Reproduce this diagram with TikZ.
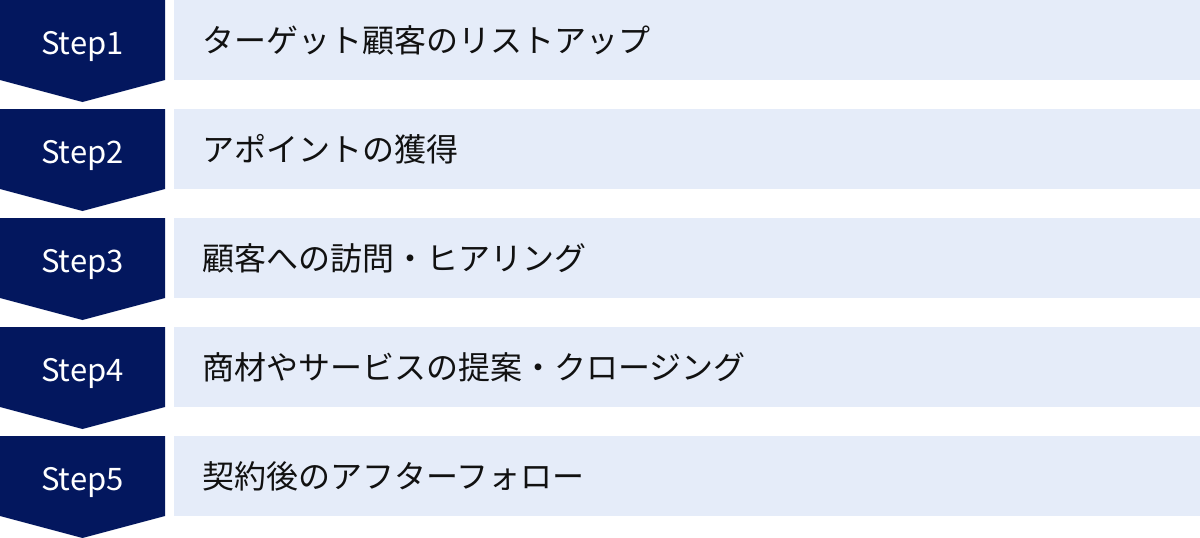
\documentclass[tikz,border=0pt]{standalone}
\usepackage{fontspec}
\setmainfont{Noto Sans CJK JP}
\newfontfamily\jpfont{Noto Sans CJK JP}
\definecolor{navy}{HTML}{03175E}
\definecolor{lightbox}{HTML}{E5ECF9}
\definecolor{txt}{HTML}{111111}
\begin{document}
\begin{tikzpicture}[x=1pt,y=-1pt,
  stepshape/.style={fill=navy,draw=none},
  boxshape/.style={fill=lightbox,draw=none,minimum width=1026pt,minimum height=80pt,inner sep=0pt,anchor=north west},
  steplabel/.style={text=white,font=\jpfont\fontsize{31pt}{36pt}\selectfont,inner sep=0pt,anchor=base},
  boxlabel/.style={text=txt,font=\jpfont\fontsize{32pt}{38pt}\selectfont,inner sep=0pt,anchor=west}]
\useasboundingbox (0,0) rectangle (1200,538);
\foreach \i/\t in {1/ターゲット顧客のリストアップ,2/アポイントの獲得,3/顧客への訪問・ヒアリング,4/商材やサービスの提案・クロージング,5/契約後のアフターフォロー}{
  \pgfmathsetmacro{\y}{109*(\i-1)}
  \fill[stepshape] (0,\y) -- (165,\y) -- (165,\y+80) -- (82.5,\y+102) -- (0,\y+80) -- cycle;
  \node[boxshape] (box\i) at (174,\y) {};
  \node[steplabel] (s\i) at (82.5,\y+54.5) {Step\i};
  \node[boxlabel] (t\i) at (202,\y+40) {\t};
}
\end{tikzpicture}
\end{document}
